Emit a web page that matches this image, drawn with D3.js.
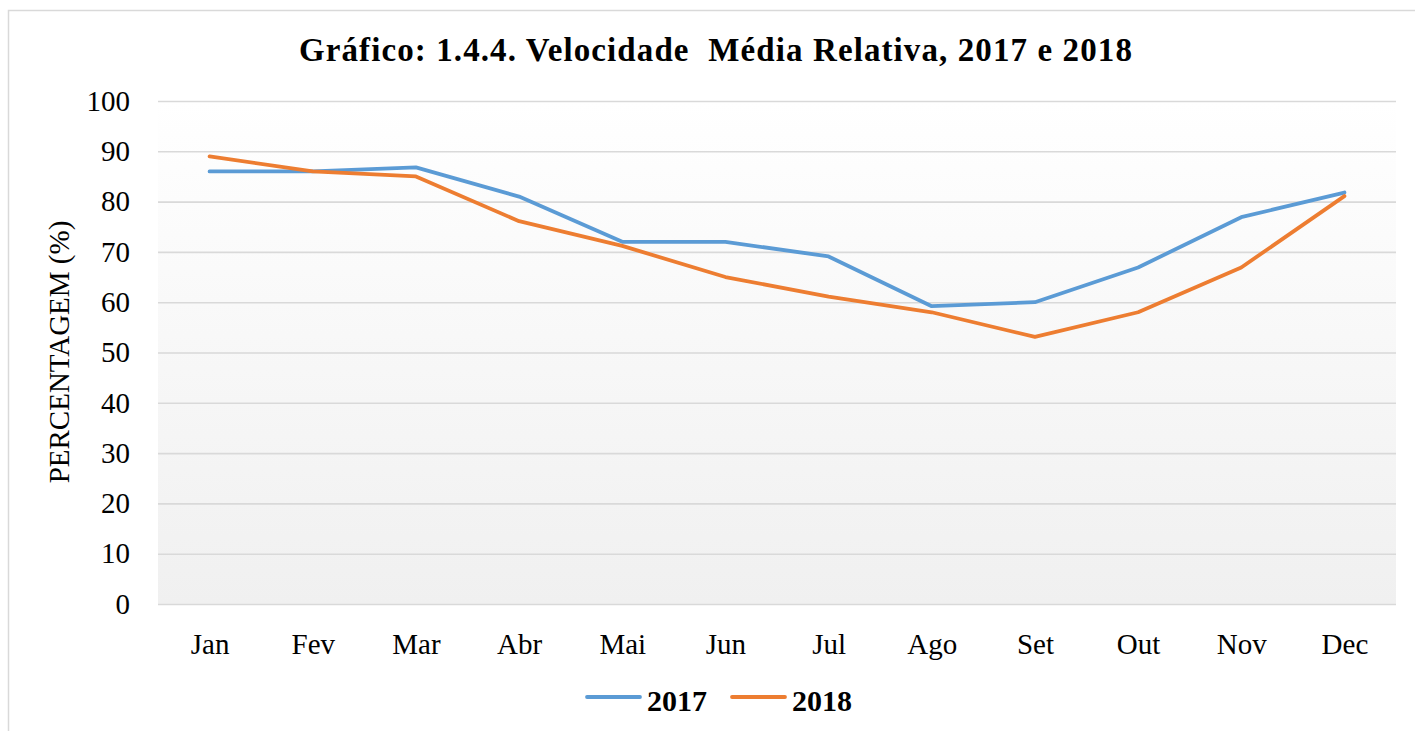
<!DOCTYPE html>
<html>
<head>
<meta charset="utf-8">
<script src="https://cdn.jsdelivr.net/npm/d3@7"></script>
<style>
  body { margin: 0; background: #fff; }
</style>
</head>
<body>
<svg id="chart"></svg>
<script>
// data
const months = ["Jan", "Fev", "Mar", "Abr", "Mai", "Jun", "Jul", "Ago", "Set", "Out", "Nov", "Dec"];
const v2017 = [86, 86, 86.8, 81, 72, 72, 69.1, 59.2, 60, 66.9, 76.9, 81.8];
const v2018 = [89, 86, 85, 76.1, 71.2, 65, 61.1, 58, 53.1, 58, 66.9, 81.1];
const yTicks = [0, 10, 20, 30, 40, 50, 60, 70, 80, 90, 100];
const seriesNames = ["2017", "2018"];
const colors = ["#5b9bd5", "#ed7d31"];

const FONT = "Liberation Serif";
const W = 1415, H = 731;
const plot = { left: 158, right: 1396, top: 101, bottom: 604 };

const svg = d3.select("#chart").attr("width", W).attr("height", H)
  .attr("font-family", FONT).style("display", "block");

// outer chart border
svg.append("rect")
  .attr("x", 8.5).attr("y", 10.5)
  .attr("width", W + 10).attr("height", H + 10)
  .attr("fill", "#fff").attr("stroke", "#d9d9d9").attr("stroke-width", 1.5);

const grad = svg.append("defs").append("linearGradient")
  .attr("id", "bg").attr("x1", 0).attr("y1", 0).attr("x2", 0).attr("y2", 1);
grad.append("stop").attr("offset", "0%").attr("stop-color", "#ffffff");
grad.append("stop").attr("offset", "100%").attr("stop-color", "#f0f0f0");

const x = d3.scalePoint().domain(months)
  .range([plot.left, plot.right]).padding(0.5);
const y = d3.scaleLinear().domain([0, 100]).range([plot.bottom, plot.top]);

svg.append("rect")
  .attr("x", plot.left).attr("y", plot.top)
  .attr("width", plot.right - plot.left).attr("height", plot.bottom - plot.top)
  .attr("fill", "url(#bg)");

// gridlines
svg.append("g")
  .attr("transform", `translate(${plot.left},0)`)
  .call(d3.axisLeft(y).tickValues(yTicks).tickSize(-(plot.right - plot.left)).tickFormat(""))
  .call(g => g.select(".domain").remove())
  .call(g => g.selectAll("line").attr("stroke", "#d9d9d9").attr("stroke-width", 1.6));

// y labels
svg.append("g")
  .attr("transform", `translate(${plot.left},0)`)
  .call(d3.axisLeft(y).tickValues(yTicks).tickSize(0).tickPadding(28))
  .call(g => g.select(".domain").remove())
  .call(g => g.selectAll("text")
    .attr("font-family", FONT).attr("font-size", 29).attr("fill", "#000"));

// x labels
svg.append("g")
  .attr("transform", `translate(0,${plot.bottom})`)
  .call(d3.axisBottom(x).tickSize(0).tickPadding(29))
  .call(g => g.select(".domain").remove())
  .call(g => g.selectAll("text")
    .attr("font-family", FONT).attr("font-size", 29).attr("fill", "#000"));

// lines
const line = d3.line().x((d, i) => x(months[i])).y(d => y(d));
[v2017, v2018].forEach((vals, i) => {
  svg.append("path")
    .datum(vals)
    .attr("d", line)
    .attr("fill", "none")
    .attr("stroke", colors[i])
    .attr("stroke-width", 3.8)
    .attr("stroke-linejoin", "round")
    .attr("stroke-linecap", "round");
});

// title
svg.append("text")
  .attr("x", 716).attr("y", 61)
  .attr("text-anchor", "middle")
  .attr("font-family", FONT)
  .attr("font-weight", "bold").attr("font-size", 33)
  .attr("letter-spacing", 1.1)
  .style("white-space", "pre")
  .text("Gráfico: 1.4.4. Velocidade  Média Relativa, 2017 e 2018");

// y axis title
svg.append("text")
  .attr("transform", "translate(69,352) rotate(-90)")
  .attr("text-anchor", "middle")
  .attr("font-family", FONT)
  .attr("font-size", 29)
  .text("PERCENTAGEM (%)");

// legend
const legendX = [587, 732];
seriesNames.forEach((name, i) => {
  const g = svg.append("g").attr("transform", `translate(${legendX[i]},697)`);
  g.append("line").attr("x1", 0).attr("x2", 53).attr("y1", 0).attr("y2", 0)
    .attr("stroke", colors[i]).attr("stroke-width", 3.8).attr("stroke-linecap", "round");
  g.append("text").attr("x", 60).attr("y", 14)
    .attr("font-family", FONT)
    .attr("font-weight", "bold").attr("font-size", 30)
    .text(name);
});
</script>
</body>
</html>
